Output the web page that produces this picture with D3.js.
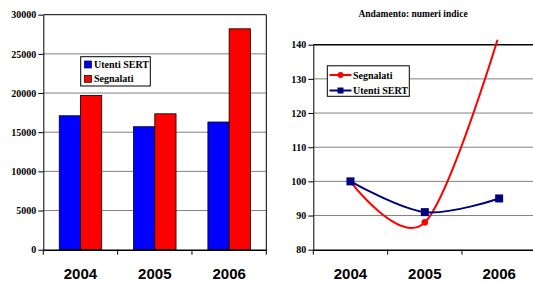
<!DOCTYPE html>
<html><head><meta charset="utf-8">
<script src="https://cdn.jsdelivr.net/npm/d3@7"></script>
<style>body{margin:0;background:#fff}svg{display:block}</style>
</head><body>
<svg id="c" width="533" height="282"></svg>
<script>
const years = ["2004","2005","2006"];
const seriesBar = ["Utenti SERT","Segnalati"];
const utenti = [17100, 15700, 16300];
const segnalati = [19700, 17350, 28200];
const barTicks = [0,5000,10000,15000,20000,25000,30000];
const idxUtenti = [100, 91, 95];
const idxSegnalati = [100, 88, 143];
const idxTicks = [80,90,100,110,120,130,140];
const titleRight = "Andamento: numeri indice";
const colors = {"Utenti SERT":"#0000ff","Segnalati":"#ff0000"};
const lineColors = {"Utenti SERT":"#000080","Segnalati":"#ff0000"};

const svg = d3.select("#c");
const serif = "'Liberation Serif','Times New Roman',serif";
const sans = "'Liberation Sans',Arial,sans-serif";
const grid = "#808080";

// ---------- Left bar chart ----------
const L = {x0:43.3, x1:266.3, yTop:14.7, yBot:249.7};
const xL = d3.scaleBand().domain(years).range([L.x0, L.x1]);
const xS = d3.scaleBand().domain(seriesBar).range([0, xL.bandwidth()]).paddingOuter(0.75).paddingInner(0);
const yL = d3.scaleLinear().domain([0,30000]).range([L.yBot, L.yTop]);
const gL = svg.append("g");
gL.selectAll("line.g").data(barTicks.filter(t=>t>0 && t<30000)).join("line")
  .attr("x1",L.x0).attr("x2",L.x1).attr("y1",d=>yL(d)).attr("y2",d=>yL(d))
  .attr("stroke",grid).attr("stroke-width",1);
const barData = [];
years.forEach((y,i)=>{barData.push({year:y,s:"Utenti SERT",v:utenti[i]});barData.push({year:y,s:"Segnalati",v:segnalati[i]});});
gL.selectAll("rect.b").data(barData).join("rect")
  .attr("x",d=>xL(d.year)+xS(d.s)).attr("width",xS.bandwidth())
  .attr("y",d=>yL(d.v)).attr("height",d=>yL(0)-yL(d.v))
  .attr("fill",d=>colors[d.s]).attr("stroke","#000").attr("stroke-width",0.8);
gL.append("path").attr("d",`M${L.x0},${L.yTop}H${L.x1}V${L.yBot}`).attr("fill","none").attr("stroke","#000").attr("stroke-width",1);
const axL = d3.axisLeft(yL).tickValues(barTicks).tickSize(5).tickSizeOuter(0).tickFormat(d3.format("d"));
const gAxL = gL.append("g").attr("transform",`translate(${L.x0},0)`).call(axL);
gAxL.selectAll("text").attr("font-family",serif).attr("font-weight","bold").attr("font-size","10px").attr("fill","#000").attr("x",-7);
gAxL.selectAll("line,path").attr("stroke","#000");
const axBL = d3.axisBottom(xL).tickSize(0).tickSizeOuter(0);
const gAxBL = gL.append("g").attr("transform",`translate(0,${L.yBot})`).call(axBL);
gAxBL.selectAll("text").attr("font-family",sans).attr("font-weight","bold").attr("font-size","15px").attr("fill","#000").attr("dy",0).attr("y",29.5);
gAxBL.select("path").attr("stroke","#000").attr("stroke-width",1.5);
gAxBL.selectAll("line.sep").data(years.concat(["end"])).join("line").attr("class","sep")
  .attr("x1",(d,i)=>L.x0+i*xL.step()).attr("x2",(d,i)=>L.x0+i*xL.step()).attr("y1",0).attr("y2",5).attr("stroke","#000");
const legL = gL.append("g");
legL.append("rect").attr("x",80.7).attr("y",56.7).attr("width",69.6).attr("height",29.3).attr("fill","#fff").attr("stroke","#000").attr("stroke-width",1);
seriesBar.forEach((s,i)=>{
  const cy = 64.5 + i*14.3;
  legL.append("rect").attr("x",84.5).attr("y",cy-3.5).attr("width",7).attr("height",7).attr("fill",colors[s]).attr("stroke","#000").attr("stroke-width",0.7);
  legL.append("text").attr("x",94).attr("y",cy+3.5).text(s).attr("font-family",serif).attr("font-weight","bold").attr("font-size","10px");
});

// ---------- Right line chart ----------
const R = {x0:313.3, x1:536.3, yTop:44.7, yBot:249.7};
const xR = d3.scaleBand().domain(years).range([R.x0, R.x1]);
const yR = d3.scaleLinear().domain([80,140]).range([R.yBot, R.yTop]);
const gR = svg.append("g");
svg.append("text").attr("x",413).attr("y",17).attr("text-anchor","middle").text(titleRight)
  .attr("font-family",serif).attr("font-weight","bold").attr("font-size","9.5px");
gR.selectAll("line.g").data(idxTicks.filter(t=>t>80 && t<140)).join("line")
  .attr("x1",R.x0).attr("x2",R.x1).attr("y1",d=>yR(d)).attr("y2",d=>yR(d))
  .attr("stroke",grid).attr("stroke-width",1);
gR.append("line").attr("x1",R.x0).attr("x2",R.x1).attr("y1",R.yTop).attr("y2",R.yTop).attr("stroke","#000").attr("stroke-width",1.5);
const axR = d3.axisLeft(yR).tickValues(idxTicks).tickSize(5).tickSizeOuter(0).tickFormat(d3.format("d"));
const gAxR = gR.append("g").attr("transform",`translate(${R.x0},0)`).call(axR);
gAxR.selectAll("text").attr("font-family",serif).attr("font-weight","bold").attr("font-size","10px").attr("fill","#000").attr("x",-7);
gAxR.selectAll("line,path").attr("stroke","#000");
const gAxBR = gR.append("g").attr("transform",`translate(0,${R.yBot})`).call(d3.axisBottom(xR).tickSize(0).tickSizeOuter(0));
gAxBR.selectAll("text").attr("font-family",sans).attr("font-weight","bold").attr("font-size","15px").attr("fill","#000").attr("dy",0).attr("y",29.5);
gAxBR.select("path").attr("stroke","#000").attr("stroke-width",1.5);
gAxBR.selectAll("line.sep").data(years.concat(["end"])).join("line").attr("class","sep")
  .attr("x1",(d,i)=>R.x0+i*xR.step()).attr("x2",(d,i)=>R.x0+i*xR.step()).attr("y1",0).attr("y2",5).attr("stroke","#000");

svg.append("defs").append("clipPath").attr("id","clipR").append("rect")
  .attr("x",R.x0).attr("y",R.yTop-5).attr("width",R.x1-R.x0).attr("height",R.yBot-R.yTop+5);
const cx = d=>xR(d)+xR.bandwidth()/2;
const line = d3.line().x(d=>cx(d.year)).y(d=>yR(d.v)).curve(d3.curveCatmullRom.alpha(0));
const segData = years.map((y,i)=>({year:y,v:idxSegnalati[i]}));
const utData = years.map((y,i)=>({year:y,v:idxUtenti[i]}));
const gLines = gR.append("g").attr("clip-path","url(#clipR)");
gLines.append("path").attr("d",line(segData)).attr("fill","none").attr("stroke",lineColors["Segnalati"]).attr("stroke-width",2);
gLines.append("path").attr("d",line(utData)).attr("fill","none").attr("stroke",lineColors["Utenti SERT"]).attr("stroke-width",2);
const clipPts = gR.append("g").attr("clip-path","url(#clipR)");
clipPts.selectAll("circle.dm").data(segData.filter(d=>d.v<=140)).join("circle")
  .attr("cx",d=>cx(d.year)).attr("cy",d=>yR(d.v)).attr("r",3.3).attr("fill",lineColors["Segnalati"]);
clipPts.selectAll("rect.sq").data(utData).join("rect")
  .attr("x",d=>cx(d.year)-4).attr("y",d=>yR(d.v)-4).attr("width",8).attr("height",8).attr("fill",lineColors["Utenti SERT"]);
const legR = gR.append("g");
legR.append("rect").attr("x",327.3).attr("y",65.8).attr("width",82).attr("height",30.5).attr("fill","#fff").attr("stroke","#000").attr("stroke-width",1);
const legItems = ["Segnalati","Utenti SERT"];
legItems.forEach((s,i)=>{
  const cy = 75 + i*15.5;
  legR.append("line").attr("x1",329.5).attr("x2",351.5).attr("y1",cy).attr("y2",cy).attr("stroke",lineColors[s]).attr("stroke-width",2);
  if(s==="Segnalati") legR.append("circle").attr("cx",340.5).attr("cy",cy).attr("r",3).attr("fill",lineColors[s]);
  else legR.append("rect").attr("x",337.5).attr("y",cy-3).attr("width",6).attr("height",6).attr("fill",lineColors[s]);
  legR.append("text").attr("x",353).attr("y",cy+3.5).text(s).attr("font-family",serif).attr("font-weight","bold").attr("font-size","10px");
});
</script>
</body></html>
